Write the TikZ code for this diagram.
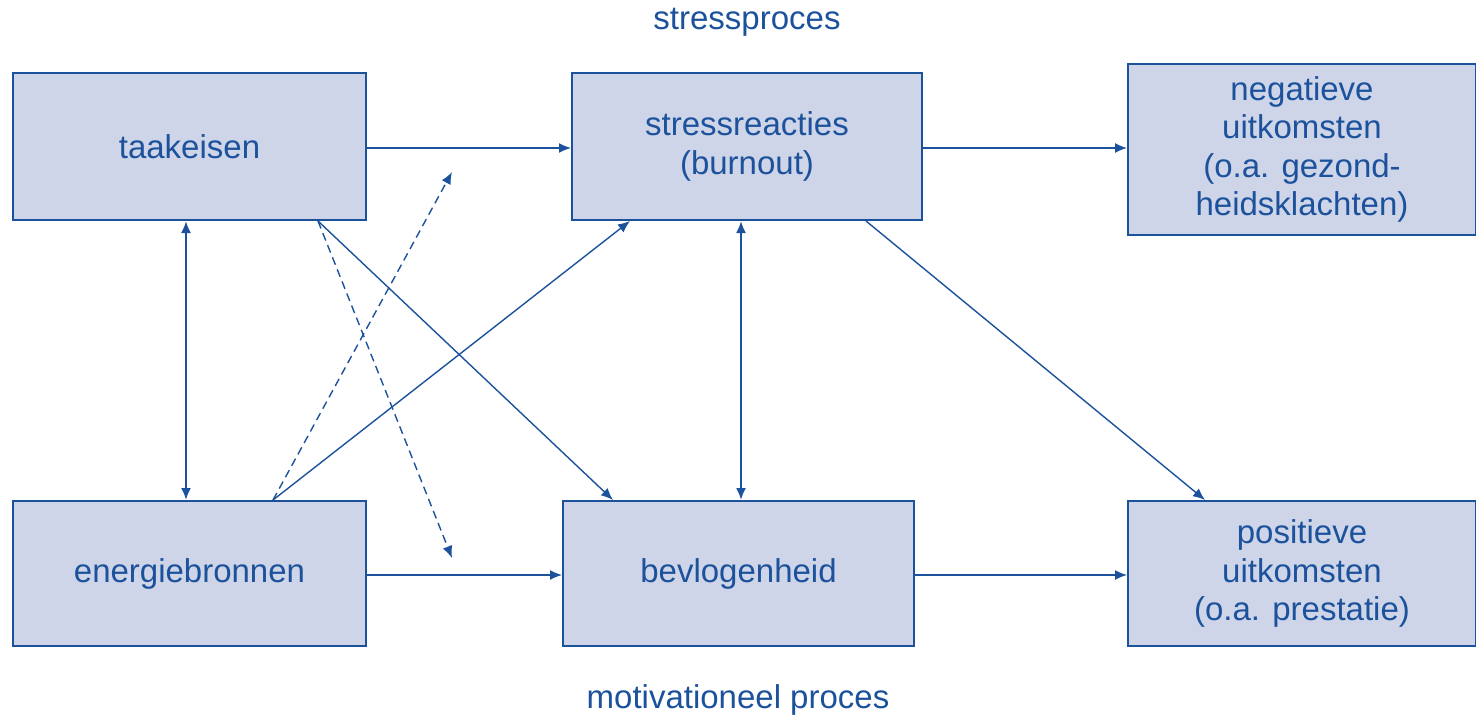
\documentclass[tikz,border=0pt]{standalone}
\usepackage{fontspec}
\setmainfont{Liberation Sans}
\usetikzlibrary{arrows.meta}
\usetikzlibrary{calc}
\usetikzlibrary{positioning}
\definecolor{boxblue}{RGB}{207,213,232}
\definecolor{lineblue}{RGB}{28,82,156}
\tikzset{
  blok/.style={draw=lineblue, line width=1pt, fill=boxblue, text=lineblue,
    align=center, inner sep=0pt, font=\fontsize{16.5}{19.25}\selectfont},
  pijl/.style={draw=lineblue, line width=0.7pt, -{Latex[length=6pt,width=5pt]}},
  dubbel/.style={draw=lineblue, line width=1pt, {Latex[length=6pt,width=5pt]}-{Latex[length=6pt,width=5pt]}},
  stippel/.style={pijl, dash pattern=on 4pt off 2.5pt},
}
\begin{document}
\begin{tikzpicture}[x=0.5pt, y=-0.5pt]
  \useasboundingbox (0,0) rectangle (1476,717);
  \node[blok, minimum width=176.5pt, minimum height=73.5pt] (taak) at (189.5,146.5) {taakeisen};
  \node[blok, minimum width=175pt, minimum height=73.5pt] (stress) at (747,146.5) {stressreacties\\(burnout)};
  \node[blok, minimum width=174pt, minimum height=85.5pt] (neg) at (1302,149.5) {negatieve\\uitkomsten\\(o.a. gezond-\\heidsklachten)};
  \node[blok, minimum width=176.5pt, minimum height=72.5pt] (bron) at (189.5,573.5) {energiebronnen};
  \node[blok, minimum width=175.5pt, minimum height=72.5pt] (bevl) at (738.5,573.5) {bevlogenheid};
  \node[blok, minimum width=174pt, minimum height=72.5pt] (pos) at (1302,573.5) {positieve\\uitkomsten\\(o.a. prestatie)};

  \node[text=lineblue, font=\fontsize{16.5}{19.25}\selectfont] (kop) at (747,22) {stressproces};
  \node[text=lineblue, font=\fontsize{16.5}{19.25}\selectfont] (voet) at (738,700) {motivationeel proces};

  % horizontale pijlen
  \draw[pijl] (taak.east |- 0,148) -- (stress.west |- 0,148);
  \draw[pijl] (stress.east |- 0,148) -- (neg.west |- 0,148);
  \draw[pijl] (bron.east |- 0,575) -- (bevl.west |- 0,575);
  \draw[pijl] (bevl.east |- 0,575) -- (pos.west |- 0,575);

  % wederzijdse relaties
  \draw[dubbel] ($(taak.south)+(-3.5,0)$) -- ($(bron.north)+(-3.5,0)$);
  \draw[dubbel] ($(bevl.north)+(2.5,0)$) -- ($(bevl.north |- stress.south)+(2.5,0)$);

  % kruisende pijlen
  \coordinate (tk) at ($(taak.south)+(128.5,0)$);
  \coordinate (bn) at ($(bron.north)+(83.5,0)$);
  \draw[pijl] (tk) -- ($(bevl.north)+(-125.5,0)$);
  \draw[pijl] (bn) -- ($(stress.south)+(-117,0)$);
  \draw[pijl] ($(stress.south)+(119,0)$) -- ($(pos.north)+(-97,0)$);

  % interactie-effecten
  \coordinate (d1) at (452,172);
  \coordinate (d2) at (452,558);
  \draw[stippel] (bn) -- (d1);
  \draw[stippel] (tk) -- (d2);
\end{tikzpicture}
\end{document}
